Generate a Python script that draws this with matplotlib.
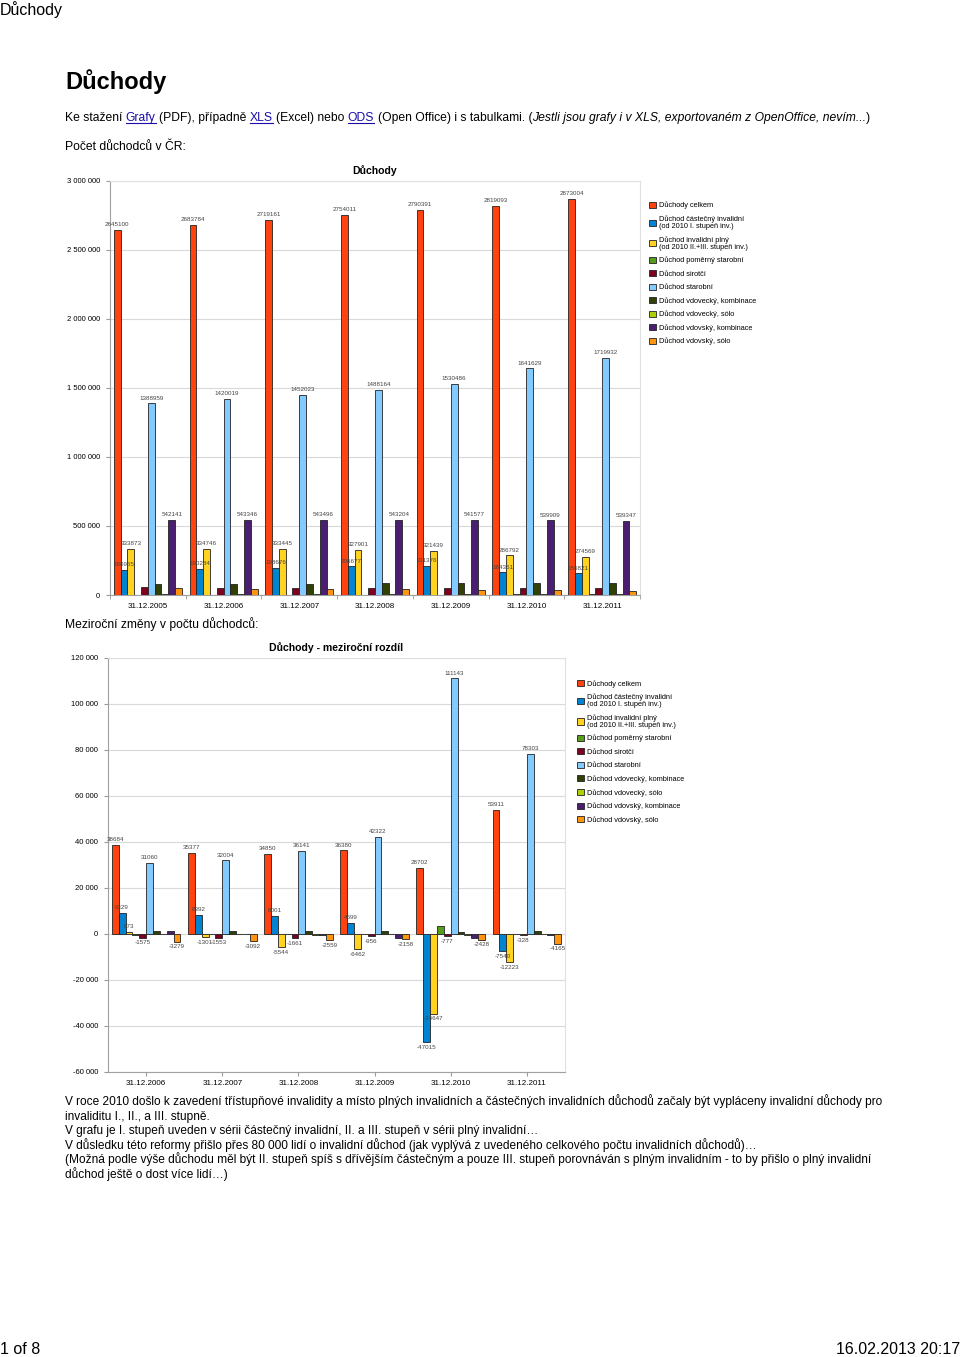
import numpy as np
import matplotlib
matplotlib.use("Agg")
import matplotlib.pyplot as plt
from matplotlib.ticker import FuncFormatter, FixedLocator
from matplotlib.lines import Line2D

plt.rcParams['font.family'] = ['Liberation Sans', 'DejaVu Sans']

W, H = 960, 1357

# ---- data: pocet duchodu ----
dates1 = ['31.12.2005', '31.12.2006', '31.12.2007', '31.12.2008',
          '31.12.2009', '31.12.2010', '31.12.2011']
celkem = [2645100, 2683784, 2719161, 2754011, 2790391, 2819093, 2873004]
castecny = [180955, 190284, 198676, 206677, 211376, 164361, 156821]
plny = [333873, 334746, 333445, 327901, 321439, 286792, 274569]
pomerny = [2300, 2100, 1900, 1800, 1700, 5100, 5000]
sirotci = [55000, 53425, 51872, 50211, 49255, 48478, 48150]
starobni = [1388959, 1420019, 1452023, 1488164, 1530486, 1641629, 1719932]
vdovec_komb = [80000, 81500, 82800, 84000, 85300, 86300, 87800]
vdovec_solo = [5800, 5600, 5400, 5200, 5000, 4800, 4600]
vdova_komb = [542141, 543346, 543496, 543204, 541577, 539909, 539347]
vdova_solo = [49700, 46421, 43329, 40770, 38612, 36184, 32019]

# ---- data: mezirocni rozdil ----
dates2 = ['31.12.2006', '31.12.2007', '31.12.2008',
          '31.12.2009', '31.12.2010', '31.12.2011']
d_celkem = [38684, 35377, 34850, 36380, 28702, 53911]
d_castecny = [9329, 8392, 8001, 4699, -47015, -7540]
d_plny = [873, -1301, -5544, -6462, -34647, -12223]
d_pomerny = [-300, -200, -150, -100, 3400, -100]
d_sirotci = [-1575, -1553, -1661, -956, -777, -328]
d_starobni = [31060, 32004, 36141, 42322, 111143, 78303]
d_vdovec_komb = [1500, 1300, 1200, 1300, 1000, 1500]
d_vdovec_solo = [-210, -190, -230, -180, -250, -170]
d_vdova_komb = [1205, 150, -292, -1627, -1668, -562]
d_vdova_solo = [-3279, -3092, -2559, -2158, -2428, -4165]

names = ['Důchody celkem',
         'Důchod částečný invalidní\n(od 2010 I. stupeň inv.)',
         'Důchod invalidní plný\n(od 2010 II.+III. stupeň inv.)',
         'Důchod poměrný starobní',
         'Důchod sirotčí',
         'Důchod starobní',
         'Důchod vdovecký, kombinace',
         'Důchod vdovecký, sólo',
         'Důchod vdovský, kombinace',
         'Důchod vdovský, sólo']
colors = ['#ff420e', '#0084d1', '#ffd320', '#579d1c', '#7e0021',
          '#83caff', '#314004', '#aecf00', '#4b1f6f', '#ff950e']

fig = plt.figure(figsize=(W / 100, H / 100), dpi=100)
renderer = fig.canvas.get_renderer()


def rect(l, t, r, b):
    return [l / W, 1 - b / H, (r - l) / W, (b - t) / H]


def space_fmt(v, pos):
    return '{:,.0f}'.format(v).replace(',', ' ')


def draw_chart(ax, dates, series, labelled, ylim, step, title, tick_between):
    n = len(dates)
    x = np.arange(n)
    bw = 0.09
    for i, vals in enumerate(series):
        pos = x - 0.45 + bw * (i + 0.5)
        ax.bar(pos, vals, bw, color=colors[i], edgecolor='#222222',
               linewidth=0.6, label=names[i], zorder=3)
        if i in labelled:
            for p, v in zip(pos, vals):
                off = 2 if v >= 0 else -2
                ax.annotate(str(v), (p, v), xytext=(0, off), textcoords='offset points',
                            ha='center', va='bottom' if v >= 0 else 'top',
                            fontsize=4.5, color='#444444', zorder=4)
    ax.set_xlim(-0.5, n - 0.5)
    ax.set_ylim(*ylim)
    ax.yaxis.set_major_locator(FixedLocator(np.arange(ylim[0], ylim[1] + 1, step)))
    ax.yaxis.set_major_formatter(FuncFormatter(space_fmt))
    ax.grid(axis='y', color='#d9d9d9', linewidth=0.8, zorder=0)
    ax.set_axisbelow(True)
    ax.set_xticks(x)
    ax.set_xticklabels(dates, fontsize=5.8)
    if tick_between:
        ax.set_xticks(np.arange(n + 1) - 0.5, minor=True)
        ax.tick_params(axis='x', which='major', length=0, pad=6)
        ax.tick_params(axis='x', which='minor', length=3, color='#999999')
    else:
        ax.tick_params(axis='x', which='major', length=3, color='#999999', pad=3)
    ax.tick_params(axis='y', labelsize=5.5, length=3, color='#999999', pad=4)
    for s in ['top', 'right']:
        ax.spines[s].set_color('#e0e0e0')
    for s in ['left', 'bottom']:
        ax.spines[s].set_color('#a0a0a0')
    ax.set_title(title, fontsize=7.6, fontweight='bold', pad=5)


def add_legend(ax, anchor):
    leg = ax.legend(loc='upper left', bbox_to_anchor=anchor, frameon=False,
                    fontsize=5.3, handlelength=0.9, handleheight=0.9,
                    handletextpad=0.4, labelspacing=0.8, borderaxespad=0)
    for t in leg.get_texts():
        t.set_linespacing(1.0)


# chart 1
ax1 = fig.add_axes(rect(110, 181, 640, 595))
series1 = [celkem, castecny, plny, pomerny, sirotci, starobni,
           vdovec_komb, vdovec_solo, vdova_komb, vdova_solo]
draw_chart(ax1, dates1, series1, {0, 1, 2, 5, 8}, (0, 3000000), 500000,
           'Důchody', True)
add_legend(ax1, (1.012, 0.957))

# chart 2
ax2 = fig.add_axes(rect(108, 658, 565, 1072))
series2 = [d_celkem, d_castecny, d_plny, d_pomerny, d_sirotci, d_starobni,
           d_vdovec_komb, d_vdovec_solo, d_vdova_komb, d_vdova_solo]
draw_chart(ax2, dates2, series2, {0, 1, 2, 4, 5, 9}, (-60000, 120000), 20000,
           'Důchody - meziroční rozdíl', False)
add_legend(ax2, (1.02, 0.954))


# ---- page text ----
def runs(x, y, parts, size):
    sp = fig.text(0, 0, 'a a', fontsize=size)
    w2 = sp.get_window_extent(renderer).width
    sp.set_text('aa')
    space_w = w2 - sp.get_window_extent(renderer).width
    sp.remove()
    for s, kind in parts:
        lead = len(s) - len(s.lstrip(' '))
        trail = len(s) - len(s.rstrip(' '))
        core = s.strip(' ')
        x += lead * space_w
        color = '#1a0dab' if kind == 'link' else 'black'
        style = 'italic' if kind == 'it' else 'normal'
        t = fig.text(x / W, 1 - y / H, core, fontsize=size, color=color,
                     style=style, va='baseline')
        w = t.get_window_extent(renderer).width
        if kind == 'link':
            fig.add_artist(Line2D([x / W, (x + w) / W], [1 - (y + 2) / H] * 2,
                                  color=color, linewidth=0.8))
        x += w + trail * space_w


fig.text(0, 1 - 15 / H, 'Důchody', fontsize=11.5, va='baseline')
fig.text(65 / W, 1 - 89 / H, 'Důchody', fontsize=17, fontweight='bold', va='baseline')
runs(65, 121, [('Ke stažení ', 'n'), ('Grafy', 'link'), (' (PDF), případně ', 'n'),
               ('XLS', 'link'), (' (Excel) nebo ', 'n'), ('ODS', 'link'),
               (' (Open Office) i s tabulkami. (', 'n'),
               ('Jestli jsou grafy i v XLS, exportovaném z OpenOffice, nevím...', 'it'),
               (')', 'n')], 8.75)
fig.text(65 / W, 1 - 150 / H, 'Počet důchodců v ČR:', fontsize=8.75, va='baseline')
fig.text(65 / W, 1 - 628 / H, 'Meziroční změny v počtu důchodců:', fontsize=8.75,
         va='baseline')

para = ['V roce 2010 došlo k zavedení třístupňové invalidity a místo plných invalidních a částečných invalidních důchodů začaly být vypláceny invalidní důchody pro',
        'invaliditu I., II., a III. stupně.',
        'V grafu je I. stupeň uveden v sérii částečný invalidní, II. a III. stupeň v sérii plný invalidní…',
        'V důsledku této reformy přišlo přes 80 000 lidí o invalidní důchod (jak vyplývá z uvedeného celkového počtu invalidních důchodů)…',
        '(Možná podle výše důchodu měl být II. stupeň spíš s dřívějším částečným a pouze III. stupeň porovnáván s plným invalidním - to by přišlo o plný invalidní',
        'důchod ještě o dost více lidí…)']
for i, line in enumerate(para):
    fig.text(65 / W, 1 - (1105.5 + i * 14.45) / H, line, fontsize=8.55, va='baseline')

fig.text(0, 1 - 1354 / H, '1 of 8', fontsize=11.5, va='baseline')
fig.text(1, 1 - 1354 / H, '16.02.2013 20:17', fontsize=11.5, va='baseline', ha='right')

fig.savefig('out.png', dpi=100)
